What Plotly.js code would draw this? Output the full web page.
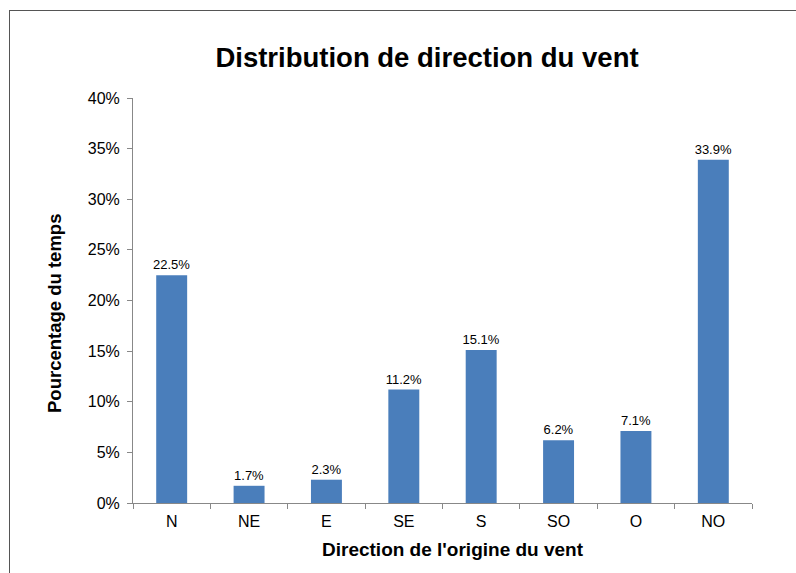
<!DOCTYPE html>
<html>
<head>
<meta charset="utf-8">
<script src="https://cdn.plot.ly/plotly-3.0.1.min.js"></script>
<style>
html,body{margin:0;padding:0;overflow:hidden;background:#fff;}
#wrap{position:relative;width:796px;height:573px;}
#frame{position:absolute;left:9px;top:10px;width:900px;height:700px;border:1.5px solid #555;box-sizing:border-box;pointer-events:none;}
#chart{position:absolute;left:0;top:0;width:796px;height:573px;}
</style>
</head>
<body>
<div id="wrap">
<div id="chart"></div>
<div id="frame"></div>
</div>
<script>
var categories = ['N','NE','E','SE','S','SO','O','NO'];
var values = [22.5, 1.7, 2.3, 11.2, 15.1, 6.2, 7.1, 33.9];
var yTickVals = [0,5,10,15,20,25,30,35,40];
var chartTitle = 'Distribution de direction du vent';
var xTitle = 'Direction de l\'origine du vent';
var yTitle = 'Pourcentage du temps';

var W = 796, H = 573;
var M = {l: 133, r: 44, t: 98, b: 70};
var pw = W - M.l - M.r, ph = H - M.t - M.b;
function px2x(p){ return (p - M.l) / pw; }
function px2y(p){ return (H - M.b - p) / ph; }

var trace = {
  type: 'bar',
  x: categories,
  y: values,
  marker: {color: '#4A7EBB'},
  texttemplate: '%{y:.1f}%',
  textposition: 'outside',
  constraintext: 'none',
  textfont: {family: 'Liberation Sans, Arial, sans-serif', size: 13, color: '#000'},
  cliponaxis: false,
  hoverinfo: 'none'
};

var layout = {
  width: W, height: H,
  margin: M,
  paper_bgcolor: 'rgba(0,0,0,0)',
  plot_bgcolor: 'rgba(0,0,0,0)',
  bargap: 0.6,
  showlegend: false,
  font: {family: 'Liberation Sans, Arial, sans-serif', color: '#000'},
  title: {
    text: '<b>' + chartTitle + '</b>',
    font: {size: 27.5, color: '#000'},
    x: 427/W, xanchor: 'center',
    y: 1 - 57/H, yanchor: 'middle'
  },
  xaxis: {
    type: 'category',
    showline: true, linecolor: '#888', linewidth: 1,
    ticks: 'outside', tickson: 'boundaries', ticklen: 5, tickcolor: '#888',
    ticklabelstandoff: 4,
    tickfont: {size: 16},
    showgrid: false, zeroline: false
  },
  yaxis: {
    range: [0, 40],
    tickvals: yTickVals,
    ticktext: yTickVals.map(function(v){return v + '%';}),
    showline: true, linecolor: '#888', linewidth: 1,
    ticks: 'outside', ticklen: 5, tickcolor: '#888',
    ticklabelstandoff: 4,
    tickfont: {size: 16},
    showgrid: false, zeroline: false
  },
  annotations: [
    {
      text: '<b>' + xTitle + '</b>', showarrow: false,
      xref: 'paper', yref: 'paper',
      x: px2x(453), y: px2y(549), xanchor: 'center', yanchor: 'middle',
      font: {size: 19, color: '#000'}
    },
    {
      text: '<b>' + yTitle + '</b>', showarrow: false, textangle: -90,
      xref: 'paper', yref: 'paper',
      x: px2x(54), y: px2y(314), xanchor: 'center', yanchor: 'middle',
      font: {size: 18.5, color: '#000'}
    }
  ]
};

Plotly.newPlot('chart', [trace], layout, {staticPlot: true, displayModeBar: false});
</script>
</body>
</html>
